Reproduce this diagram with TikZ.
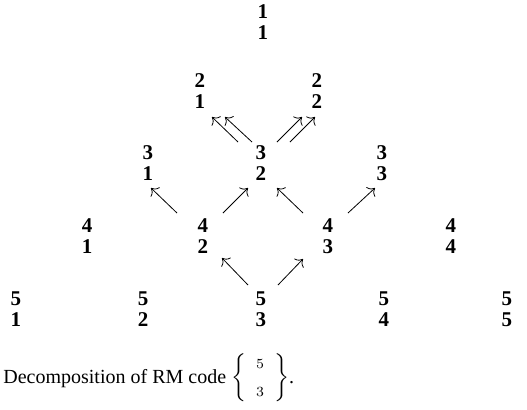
\documentclass[tikz,border=0pt]{standalone}
\usepackage{fontspec}
\setmainfont{Liberation Serif}
\usetikzlibrary{arrows.meta}
\begin{document}
\begin{tikzpicture}[x=0.5pt,y=-0.5pt,
    pair/.style={inner sep=0pt, align=center, font=\bfseries\fontsize{10.5}{10.5}\selectfont},
    arr/.style={-{To[scale=1.25]}, thin}]
  \useasboundingbox (0,0) rectangle (527,409);

  % niveis 1 a 5
  \node[pair] (n11) at (263,22) {1\\1};
  \node[pair] (n21) at (200,91) {2\\1};
  \node[pair] (n22) at (317,91) {2\\2};
  \node[pair] (n31) at (148,163) {3\\1};
  \node[pair] (n32) at (261,163) {3\\2};
  \node[pair] (n33) at (382,163) {3\\3};
  \node[pair] (n41) at (87,236) {4\\1};
  \node[pair] (n42) at (203,236) {4\\2};
  \node[pair] (n43) at (328,236) {4\\3};
  \node[pair] (n44) at (451,236) {4\\4};
  \node[pair] (n51) at (16,309) {5\\1};
  \node[pair] (n52) at (143,309) {5\\2};
  \node[pair] (n53) at (261,309) {5\\3};
  \node[pair] (n54) at (384,309) {5\\4};
  \node[pair] (n55) at (507,309) {5\\5};

  % setas duplas: 3,2 -> 2,1 e 2,2
  \draw[arr] ([shift={(-23,-21)}]n32.center) -- ([shift={(12,26)}]n21.center);
  \draw[arr] ([shift={(-9,-21)}]n32.center) -- ([shift={(25,26)}]n21.center);
  \draw[arr] ([shift={(16,-21)}]n32.center) -- ([shift={(-15,26)}]n22.center);
  \draw[arr] ([shift={(29,-21)}]n32.center) -- ([shift={(-2,26)}]n22.center);

  % setas simples do nivel 4
  \draw[arr] ([shift={(-26,-23)}]n42.center) -- ([shift={(3,25)}]n31.center);
  \draw[arr] ([shift={(20,-23)}]n42.center) -- ([shift={(-13,25)}]n32.center);
  \draw[arr] ([shift={(-25,-23)}]n43.center) -- ([shift={(16,25)}]n32.center);
  \draw[arr] ([shift={(20,-23)}]n43.center) -- ([shift={(-7,25)}]n33.center);

  % setas simples do nivel 5
  \draw[arr] ([shift={(-13,-24)}]n53.center) -- ([shift={(19,22)}]n42.center);
  \draw[arr] ([shift={(17,-24)}]n53.center) -- ([shift={(-25,23)}]n43.center);

  % legenda
  \node[anchor=west, inner sep=0pt] (legenda) at (3,378)
    {Decomposition of RM code $\left\{\begin{array}{c}\scriptstyle 5\\[2pt]\scriptstyle 3\end{array}\right\}$.};
\end{tikzpicture}
\end{document}
